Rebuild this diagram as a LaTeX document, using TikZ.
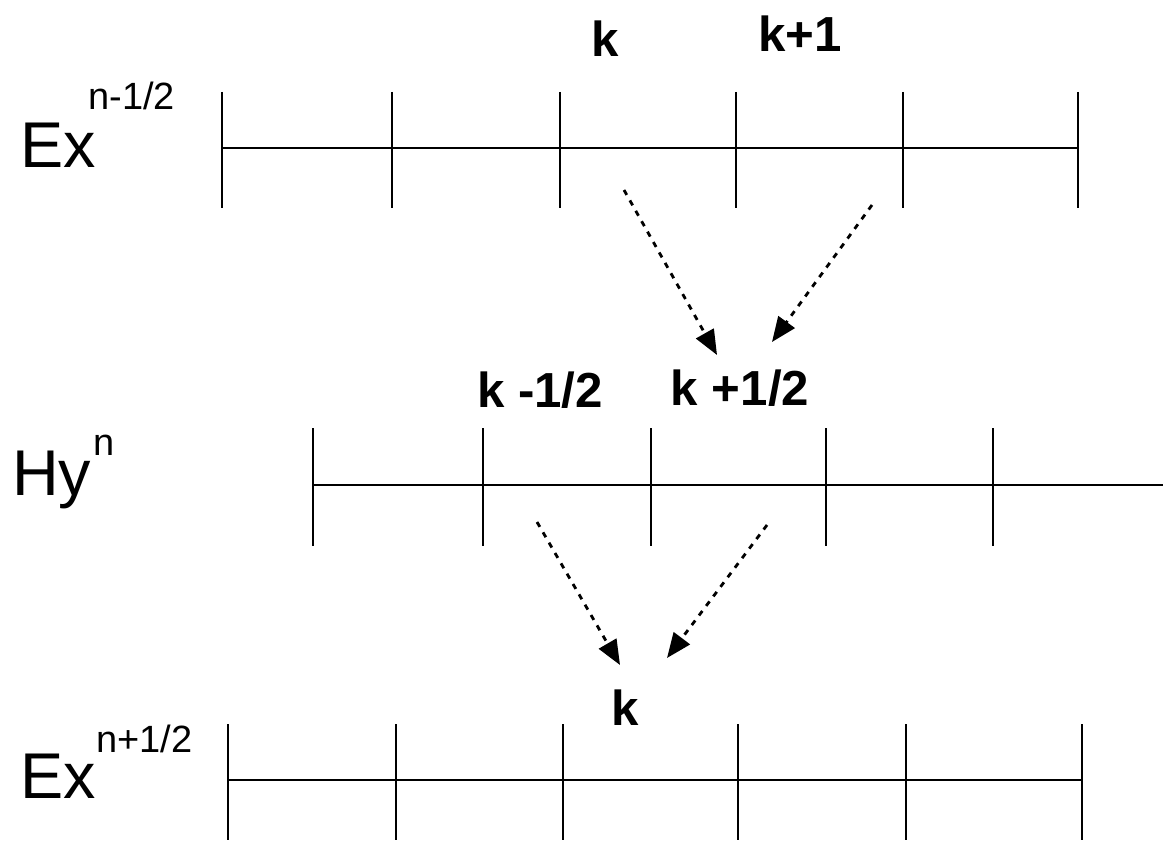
\documentclass[tikz,border=0pt]{standalone}
\usepackage{fontspec}
\setmainfont{Liberation Sans}
\usetikzlibrary{arrows.meta,positioning}

\begin{document}
\begin{tikzpicture}[
			x=0.025cm,y=-0.025cm,
			>={Triangle[length=0.62cm,width=0.5cm]},
			field/.style={
				font=\fontsize{46}{50}\selectfont,
				anchor=base west,
				inner sep=0pt
			},
			level/.style={
				font=\fontsize{27}{30}\selectfont,
				anchor=base west,
				inner sep=0pt
			},
			index/.style={
				font=\bfseries\fontsize{35}{38}\selectfont,
				anchor=base,
				inner sep=0pt
			},
			grid/.style={
				line width=1.3pt
			},
			update/.style={
				->,
				line width=2pt,
				dash pattern=on 4pt off 4.5pt
			}
			]

			\useasboundingbox (0,0) rectangle (1163,847);

			% Ex at n-1/2
			\node[field] (exold) at (20,167) {Ex};
			\node[level] (exoldlev) at (88,110) {n-1/2};
			\draw[grid] (222,148) -- (1078,148);
			\foreach \xx in {222,392,560,736,903,1078}
				\draw[grid] (\xx,92) -- (\xx,208);
			\node[index] (ka) at (605,57) {k};
			\node[index] (kb) at (800,52) {k+1};

			% Hy at n
			\node[field] (hy) at (12,495) {Hy};
			\node[level] (hylev) at (93,455) {n};
			\draw[grid] (313,485) -- (1163,485);
			\foreach \xx in {313,483,651,826,993}
				\draw[grid] (\xx,428) -- (\xx,546);
			\node[index] (kmh) at (540,407) {k -1/2};
			\node[index] (kph) at (740,405) {k +1/2};

			% Ex at n+1/2
			\node[field] (exnew) at (20,798) {Ex};
			\node[level] (exnewlev) at (96,752) {n+1/2};
			\draw[grid] (228,780) -- (1082,780);
			\foreach \xx in {228,396,563,738,906,1082}
				\draw[grid] (\xx,724) -- (\xx,840);
			\node[index] (kc) at (625,725) {k};

			% update arrows
			\coordinate (fromka) at (624,190);
			\coordinate (fromkb) at (872,205);
			\coordinate (tokph) at (717,355);
			\coordinate (tokph2) at (772,342);
			\coordinate (fromkmh) at (537,522);
			\coordinate (fromkph) at (767,525);
			\coordinate (tokc) at (620,665);
			\coordinate (tokc2) at (667,658);

			\draw[update] (fromka) -- (tokph);
			\draw[update] (fromkb) -- (tokph2);
			\draw[update] (fromkmh) -- (tokc);
			\draw[update] (fromkph) -- (tokc2);

\end{tikzpicture}
\end{document}
